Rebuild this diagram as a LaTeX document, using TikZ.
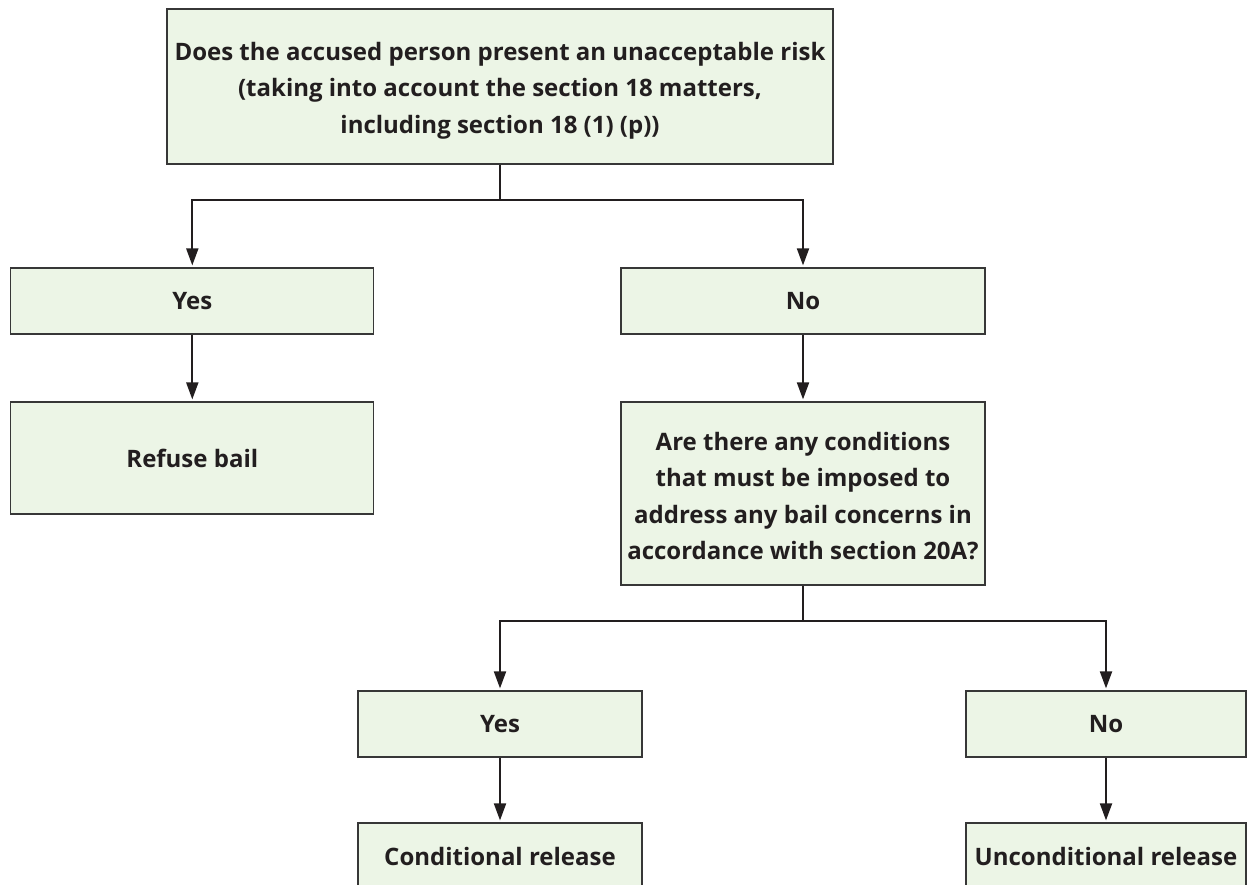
\documentclass[tikz,border=0pt]{standalone}
\usepackage{fontspec}
\setmainfont{Open Sans}[BoldFont={* Bold}]
\usetikzlibrary{arrows.meta}
\definecolor{boxfill}{RGB}{236,245,230}
\definecolor{boxline}{RGB}{55,55,55}
\definecolor{txt}{RGB}{34,30,31}
\definecolor{conn}{RGB}{34,30,31}
\newcommand{\lowerby}[1]{\rule{0pt}{#1}}
\tikzset{
  flowbox/.style={draw=boxline, fill=boxfill, line width=1.2pt, inner sep=0pt,
    align=center, text=txt, font=\fontsize{24}{36.5}\selectfont\bfseries},
  conline/.style={draw=conn, line width=1.9pt},
  arr/.style={conline, -{Triangle[length=17pt,width=12pt]}, shorten >=2pt},
}
\begin{document}
\begin{tikzpicture}[x=1pt,y=-1pt]
\useasboundingbox (0,0) rectangle (1249,884);
\clip (0,0) rectangle (1249,884);
\node[flowbox, minimum width=666pt, minimum height=155pt] (top) at (500,86.5)
  {\lowerby{26pt}Does the accused person present an unacceptable risk\\(taking into account the section 18 matters,\\including section 18 (1) (p))};
\node[flowbox, minimum width=363pt, minimum height=66pt] (yesL) at (192.3,301) {Yes};
\node[flowbox, minimum width=364pt, minimum height=66pt] (noL) at (803,301) {No};
\node[flowbox, minimum width=363pt, minimum height=112pt] (refuse) at (192.3,458) {Refuse bail};
\node[flowbox, minimum width=364pt, minimum height=183pt] (q) at (803,493.5)
  {\lowerby{23.5pt}Are there any conditions\\that must be imposed to\\address any bail concerns in\\accordance with section 20A?};
\node[flowbox, minimum width=284pt, minimum height=66pt] (yesR) at (500,724) {Yes};
\node[flowbox, minimum width=280pt, minimum height=66pt] (noR) at (1106,724) {No};
\node[flowbox, minimum width=284pt, minimum height=66pt] (cond) at (500,856) {Conditional release};
\node[flowbox, minimum width=280pt, minimum height=66pt] (uncond) at (1106,856) {Unconditional release};
\coordinate (j1) at (500,200);
\coordinate (j2) at (803,621);
\draw[conline] (top.south) -- (j1);
\draw[arr] (j1) -| (yesL.north);
\draw[arr] (j1) -| (noL.north);
\draw[arr] (yesL.south) -- (refuse.north);
\draw[arr] (noL.south) -- (q.north);
\draw[conline] (q.south) -- (j2);
\draw[arr] (j2) -| (yesR.north);
\draw[arr] (j2) -| (noR.north);
\draw[arr] (yesR.south) -- (cond.north);
\draw[arr] (noR.south) -- (uncond.north);
\end{tikzpicture}
\end{document}
